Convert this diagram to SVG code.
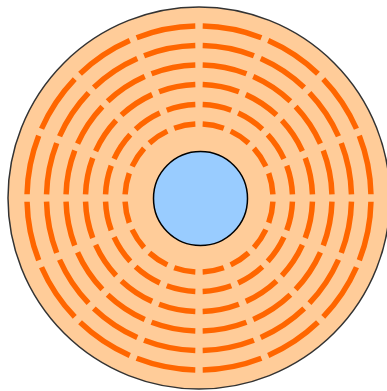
<svg xmlns="http://www.w3.org/2000/svg" width="387" height="391" viewBox="0 0 387 391">
  <style>
    .disk { fill: #FFCC99; stroke: #333333; stroke-width: 1.5; }
    .track { fill: none; stroke: #FF6600; stroke-width: 5.5; }
    .hub { fill: #99CCFF; stroke: #000000; stroke-width: 1.5; }
  </style>
  <g id="platter">
    <circle class="disk" cx="199" cy="198" r="191"/>
  </g>
  <g id="tracks">
    <circle class="track" cx="199" cy="198" r="172" pathLength="360" stroke-dasharray="20.0 2.5" stroke-dashoffset="21.25"/>
    <circle class="track" cx="199" cy="198" r="152.5" pathLength="360" stroke-dasharray="19.7 2.8" stroke-dashoffset="21.1"/>
    <circle class="track" cx="199" cy="198" r="133" pathLength="360" stroke-dasharray="19.3 3.2" stroke-dashoffset="20.9"/>
    <circle class="track" cx="199" cy="198" r="113.5" pathLength="360" stroke-dasharray="18.7 3.8" stroke-dashoffset="20.6"/>
    <circle class="track" cx="199" cy="198" r="93.5" pathLength="360" stroke-dasharray="17.9 4.6" stroke-dashoffset="20.2"/>
    <circle class="track" cx="199" cy="198" r="74" pathLength="360" stroke-dasharray="16.7 5.8" stroke-dashoffset="19.6"/>
  </g>
  <g id="hub">
    <circle class="hub" cx="200.5" cy="198.5" r="47"/>
  </g>
</svg>
